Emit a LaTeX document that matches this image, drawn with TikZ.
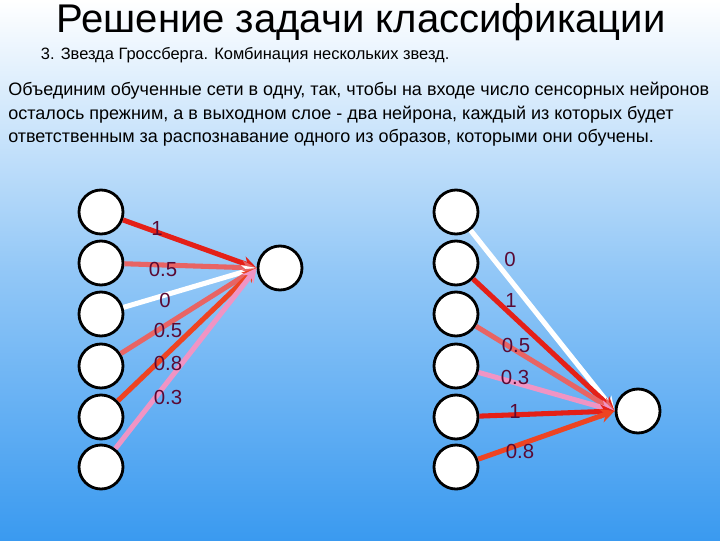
\documentclass[tikz,border=0pt]{standalone}
\usepackage{fontspec}
\setmainfont{Liberation Sans}
\usetikzlibrary{arrows.meta,positioning}
\definecolor{wred}{HTML}{E42018}
\definecolor{wsalmon}{HTML}{E86464}
\definecolor{worange}{HTML}{EE4422}
\definecolor{wpink}{HTML}{F094C4}
\definecolor{wlabel}{HTML}{5A0A34}
\definecolor{bgtop}{HTML}{FFFFFF}
\definecolor{bgbot}{HTML}{3A9AF0}
\tikzset{
    neuron/.style={circle,draw=black,line width=2pt,fill=white,minimum size=44\pxu},
    weight/.style={line width=3.6pt,-{Stealth[length=10pt,width=10pt]}},
    wlab/.style={text=wlabel,font=\fontsize{14.5}{14.5}\selectfont},
}
\newlength{\pxu}\setlength{\pxu}{0.025cm}
\begin{document}
\begin{tikzpicture}[x=0.025cm,y=-0.025cm]
    \shade[top color=bgtop,bottom color=bgbot,middle color=bgtop!45!bgbot] (0,0) rectangle (720,540);
    \useasboundingbox (0,0) rectangle (720,540);
    % title and text
    \node (title) at (361,22) {\fontsize{28.5}{28.5}\selectfont Решение задачи классификации};
    \node[anchor=west] (sub) at (36,55) {\fontsize{11.7}{11.7}\selectfont 3. Звезда Гроссберга. Комбинация нескольких звезд.};
    \node[anchor=north west,align=left,inner sep=0pt,font=\fontsize{12.8}{16.8}\selectfont] (body) at (8,82)
        {Объединим обученные сети в одну, так, чтобы на входе число сенсорных нейронов\\
        осталось прежним, а в выходном слое  - два нейрона, каждый из которых будет\\
        ответственным за распознавание одного из образов, которыми они обучены.};
    % left star
    \foreach \i/\y in {1/212,2/263,3/314,4/366,5/417,6/467}
        \node[neuron] (a\i) at (101,\y) {};
    \node[neuron] (aout) at (280,268) {};
    \draw[weight,wred] (a1) -- (aout.west);
    \draw[weight,wsalmon] (a2) -- (aout.west);
    \draw[weight,white] (a3) -- (aout.west);
    \draw[weight,wsalmon] (a4) -- (aout.west);
    \draw[weight,worange] (a5) -- (aout.west);
    \draw[weight,wpink] (a6) -- (aout.west);
    \node[wlab] (la1) at (157,228) {1};
    \node[wlab] (la2) at (163,269) {0.5};
    \node[wlab] (la3) at (165,300) {0};
    \node[wlab] (la4) at (168,330) {0.5};
    \node[wlab] (la5) at (168,363) {0.8};
    \node[wlab] (la6) at (168,397) {0.3};
    % right star
    \foreach \i/\y in {1/212,2/263,3/314,4/366,5/417,6/467}
        \node[neuron] (b\i) at (456,\y) {};
    \node[neuron] (bout) at (638,411) {};
    \draw[weight,white] (b1) -- (bout.west);
    \draw[weight,wred] (b2) -- (bout.west);
    \draw[weight,wsalmon] (b3) -- (bout.west);
    \draw[weight,wpink] (b4) -- (bout.west);
    \draw[weight,wred] (b5) -- (bout.west);
    \draw[weight,worange] (b6) -- (bout.west);
    \node[wlab] (lb1) at (510,259) {0};
    \node[wlab] (lb2) at (511,300) {1};
    \node[wlab] (lb3) at (516,345) {0.5};
    \node[wlab] (lb4) at (515,377) {0.3};
    \node[wlab] (lb5) at (515,411) {1};
    \node[wlab] (lb6) at (520,451) {0.8};
\end{tikzpicture}
\end{document}
